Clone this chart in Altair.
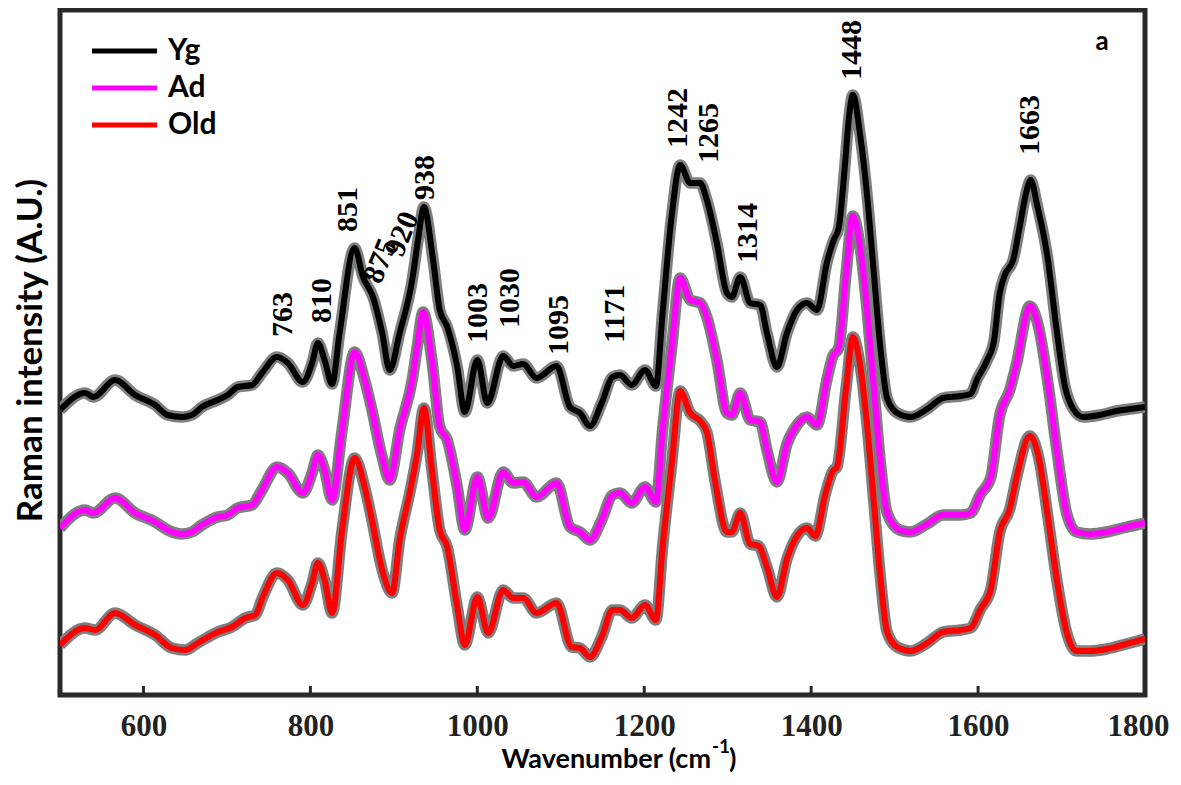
import altair as alt
import pandas as pd

# ---------------- data ----------------
series_names = ["Yg", "Ad", "Old"]
series_colors = ["#000000", "#ff00ff", "#ff0000"]

yg_wn = [500, 530, 540, 566, 590, 614, 629, 646, 658, 670, 689, 701, 713, 730, 742, 760, 773, 791, 802, 809,
         817, 826, 835, 853, 863, 875, 886, 895, 907, 922, 929, 936, 947, 955, 964, 976, 985, 1000, 1012, 1031,
         1043, 1055, 1071, 1095, 1111, 1123, 1135, 1149, 1162, 1171, 1185, 1201, 1214, 1222, 1233, 1243, 1255,
         1267, 1275, 1287, 1299, 1305, 1315, 1327, 1339, 1347, 1359, 1371, 1383, 1395, 1407, 1419, 1427, 1433,
         1440, 1445, 1450, 1459, 1467, 1475, 1483, 1491, 1503, 1519, 1539, 1558, 1579, 1591, 1599, 1611, 1619,
         1626, 1632, 1642, 1650, 1657, 1663, 1671, 1683, 1694, 1704, 1714, 1726, 1746, 1766, 1782, 1800]
yg_int = [285, 302, 298, 315, 300, 290, 280, 278, 280, 288, 295, 300, 308, 310, 322, 338, 332, 313, 332, 352,
          335, 311, 362, 447, 418, 398, 362, 325, 362, 415, 455, 488, 435, 385, 368, 328, 283, 335, 292, 339,
          329, 331, 317, 329, 288, 282, 269, 292, 318, 320, 310, 325, 309, 382, 480, 530, 512,
          512, 495, 452, 402, 398, 418, 392, 390, 362, 328, 362, 385, 392, 385, 433, 455, 467,
          525, 575, 600, 558, 500, 423, 347, 297, 282, 278, 286, 297, 299, 301, 316, 335, 354,
          402, 420, 435, 469, 500, 515, 489, 439, 366, 309, 286, 278, 280, 284, 286, 288]

ad_wn = [500, 530, 540, 566, 590, 614, 629, 646, 658, 670, 689, 701, 713, 730, 742, 760, 773, 791, 802, 809,
         817, 826, 838, 853, 865, 873, 886, 895, 907, 922, 928, 935, 946, 955, 964, 976, 985, 1000, 1013, 1031,
         1043, 1055, 1071, 1095, 1111, 1123, 1135, 1149, 1162, 1171, 1185, 1201, 1214, 1222, 1233, 1243, 1255,
         1267, 1275, 1287, 1299, 1305, 1315, 1327, 1339, 1347, 1359, 1371, 1383, 1395, 1407, 1419, 1426, 1433,
         1442, 1450, 1459, 1467, 1475, 1483, 1491, 1506, 1519, 1539, 1558, 1579, 1591, 1603, 1615, 1626, 1638,
         1646, 1662, 1673, 1683, 1694, 1706, 1718, 1734, 1754, 1773, 1800]
ad_int = [167, 185, 182, 197, 182, 173, 165, 161, 163, 170, 178, 180, 187, 190, 205, 228, 222, 202, 222, 240,
          225, 195, 265, 343, 315, 288, 238, 215, 265, 315, 348, 383, 332, 268, 255, 208, 165, 218, 177, 223,
          212, 213, 198, 212, 168, 163, 155, 175, 200, 202, 192, 208, 193, 265, 348, 417, 395,
          392, 378, 335, 282, 280, 302, 275, 273, 245, 213, 251, 270, 278, 270, 316, 339, 347,
          423, 479, 446, 385, 308, 232, 182, 165, 163, 171, 180, 180, 182, 201, 217, 280, 305,
          331, 389, 366, 316, 247, 182, 163, 161, 163, 167, 172]

old_wn = [500, 530, 542, 566, 590, 614, 634, 650, 665, 689, 706, 722, 734, 743, 760, 773, 791, 802, 809, 817,
          826, 838, 853, 865, 873, 886, 898, 907, 919, 928, 936, 946, 955, 964, 976, 985, 1000, 1013, 1031, 1043,
          1055, 1071, 1095, 1113, 1123, 1135, 1149, 1162, 1171, 1185, 1201, 1214, 1222, 1233, 1243, 1255, 1267,
          1275, 1285, 1299, 1305, 1315, 1327, 1337, 1347, 1359, 1371, 1383, 1395, 1405, 1417, 1426, 1431, 1442,
          1450, 1459, 1467, 1475, 1483, 1491, 1503, 1519, 1539, 1558, 1579, 1591, 1603, 1615, 1626, 1638, 1646,
          1662, 1673, 1683, 1694, 1706, 1718, 1734, 1754, 1773, 1800]
old_int = [50, 67, 65, 82, 70, 60, 47, 45, 52, 63, 68, 77, 80, 98, 122, 115, 90, 112, 132, 115,
           82, 165, 237, 208, 178, 125, 102, 155, 202, 242, 287, 222, 165, 148, 88, 50, 98, 62, 105, 97,
           97, 82, 92, 48, 47, 38, 58, 85, 85, 77, 90, 75, 148, 232, 304, 282, 274,
           263, 213, 163, 163, 182, 151, 149, 128, 98, 136, 159, 167, 159, 201, 224, 228, 308,
           358, 328, 270, 194, 117, 63, 48, 44, 52, 63, 65, 67, 86, 105, 163, 186, 217,
           259, 236, 182, 117, 63, 44, 44, 46, 50, 56]

peak_text = ["763", "810", "851", "875", "920", "938", "1003", "1030", "1095", "1171",
             "1242", "1265", "1314", "1448", "1663"]
peak_x = [767, 814, 845, 874, 900, 937, 1001, 1039, 1098, 1165, 1240, 1278, 1324, 1449, 1662]
peak_y = [358, 372, 463, 413, 440, 495, 352, 367, 340, 352, 547, 532, 432, 615, 540]
peak_angle = [270, 270, 270, 292, 292, 270, 270, 270, 270, 270, 270, 270, 270, 270, 270]

x_ticks = [600, 800, 1000, 1200, 1400, 1600, 1800]

# ---------------- tables ----------------
rows = []
for name, wn, val in [("Yg", yg_wn, yg_int), ("Ad", ad_wn, ad_int), ("Old", old_wn, old_int)]:
    for w, v in zip(wn, val):
        rows.append({"series": name, "wn": w, "intensity": v})
spec = pd.DataFrame(rows)

peaks = pd.DataFrame({"text": peak_text, "wn": peak_x, "intensity": peak_y, "angle": peak_angle})
ticks = pd.DataFrame({"tick": x_ticks})
legend_df = pd.DataFrame({"series": series_names})

FRAME = "#2a2a2a"
W, H = 1085, 685

x_scale = alt.Scale(domain=[500, 1800], nice=False, zero=False)
y_scale = alt.Scale(domain=[0, 685], nice=False, zero=True)
color_scale = alt.Scale(domain=series_names, range=series_colors)

x_enc = alt.X("wn:Q", scale=x_scale,
              axis=alt.Axis(values=x_ticks, format="d", title=None, grid=False, ticks=False, domain=False,
                            labelFont="Liberation Serif", labelFontWeight="bold", labelFontSize=31,
                            labelColor="#222222", labelPadding=16, labelFlush=True,
                            labelFlushOffset=24, labelOverlap=False))
y_enc = alt.Y("intensity:Q", scale=y_scale,
              axis=alt.Axis(title="Raman intensity (A.U.)", labels=False, ticks=False, domain=False,
                            grid=False, titleFont="Lato", titleFontWeight="bold", titleFontSize=35,
                            titleColor="#000000", titleX=-30, titleY=340, titleAngle=270,
                            titleAlign="center", titleBaseline="middle"))

band = alt.Chart(spec).mark_line(color="#7f7f7f", strokeWidth=11.5, interpolate="monotone",
                                 clip=True, strokeJoin="round").encode(
    x=x_enc, y=y_enc, detail="series:N")

lines = alt.Chart(spec).mark_line(strokeWidth=6, interpolate="monotone", clip=True,
                                  strokeJoin="round").encode(
    x="wn:Q", y="intensity:Q",
    color=alt.Color("series:N", scale=color_scale, legend=None))

peak_labels = alt.Chart(peaks).mark_text(align="left", baseline="middle", font="Liberation Serif",
                                         fontWeight="bold", fontSize=30, color="#000000").encode(
    x="wn:Q", y="intensity:Q", text="text:N", angle=alt.Angle("angle:Q", scale=None))

tick_marks = alt.Chart(ticks).mark_rule(color=FRAME, strokeWidth=3).encode(
    x="tick:Q", y=alt.value(H - 9), y2=alt.value(H))

legend_layers = []
for i, (name, col) in enumerate(zip(series_names, series_colors)):
    row_y = 41 + 37 * i
    legend_layers.append(
        alt.Chart(legend_df).transform_filter(alt.datum.series == name).mark_rule(
            strokeWidth=5, color=col).encode(x=alt.value(32), x2=alt.value(97), y=alt.value(row_y)))
    legend_layers.append(
        alt.Chart(legend_df).transform_filter(alt.datum.series == name).mark_text(
            align="left", baseline="middle", font="Lato", fontWeight="bold", fontSize=30,
            color="#000000").encode(x=alt.value(108), y=alt.value(row_y), text="series:N"))

title_df = pd.DataFrame({"t": ["Wavenumber (cm"], "s": ["-1"], "c": [")"], "a": ["a"]})
x_title_main = alt.Chart(title_df).mark_text(align="right", baseline="middle", font="Lato",
                                             fontWeight="bold", fontSize=27, color="#000000").encode(
    x=alt.value(651), y=alt.value(750), text="t:N")
x_title_sup = alt.Chart(title_df).mark_text(align="left", baseline="middle", font="Lato",
                                            fontWeight="bold", fontSize=19, color="#000000").encode(
    x=alt.value(652), y=alt.value(737), text="s:N")
x_title_close = alt.Chart(title_df).mark_text(align="left", baseline="middle", font="Lato",
                                              fontWeight="bold", fontSize=27, color="#000000").encode(
    x=alt.value(669), y=alt.value(750), text="c:N")
panel_tag = alt.Chart(title_df).mark_text(align="center", baseline="middle", font="Lato",
                                          fontWeight="bold", fontSize=26, color="#000000").encode(
    x=alt.value(1042), y=alt.value(32), text="a:N")

chart = alt.layer(
    band, lines, peak_labels, tick_marks, *legend_layers,
    x_title_main, x_title_sup, x_title_close, panel_tag
).properties(
    width=W, height=H,
    background="#ffffff",
    autosize=alt.AutoSizeParams(type="none"),
    padding={"left": 52, "top": 2, "right": 27, "bottom": 82},
).configure_view(stroke=FRAME, strokeWidth=5)

chart.save("out.html", embed_options={"renderer": "svg", "actions": False})
